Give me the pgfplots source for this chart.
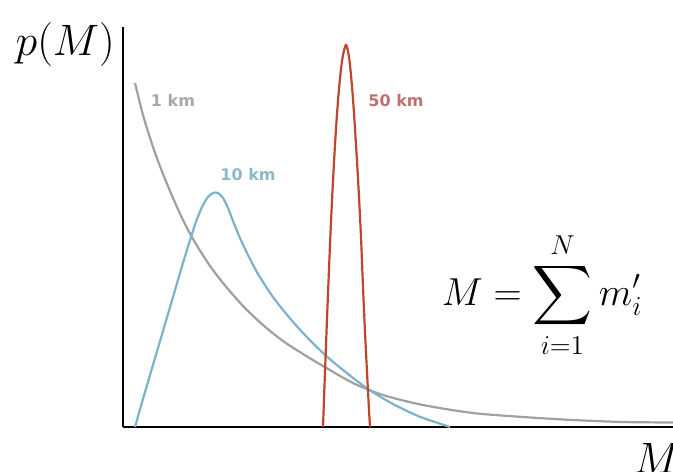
\RequirePackage{fix-cm}
\documentclass[border=0pt]{standalone}
\usepackage{amsmath}
\usepackage{pgfplots}
\pgfplotsset{compat=1.18}
\usepackage{fontspec}
\newfontfamily\lab{DejaVu Sans}

\definecolor{grayc}{RGB}{160,160,160}
\definecolor{bluec}{RGB}{122,179,204}
\definecolor{redc}{RGB}{192,69,47}
\definecolor{grayt}{RGB}{168,168,168}
\definecolor{bluet}{RGB}{140,184,204}
\definecolor{redt}{RGB}{192,112,112}

\begin{document}
\begin{tikzpicture}
\useasboundingbox (0,0) rectangle (336.5pt,235.5pt);
\clip (0,0) rectangle (336.5pt,235.5pt);
\begin{axis}[
    at={(61.5pt,22pt)}, anchor=south west,
    width=275pt, height=200pt, scale only axis,
    xmin=0, xmax=550, ymin=0, ymax=400,
    axis x line*=bottom, axis y line*=left,
    axis line style={black, line width=1pt, -},
    xtick=\empty, ytick=\empty,
    clip=false,
    every axis plot/.append style={line width=1.1pt, smooth, no markers},
]
% 1 km
\addplot[grayc] coordinates {
 (12,344) (20,312) (30,280) (40,253) (50,229) (60,207) (70,188) (85,164)
 (100,144) (120,121) (140,102) (160,86) (180,73) (200,61) (230,44)
 (260,32) (300,22) (350,14) (400,10) (450,7) (500,5) (550,4.5)};
% 10 km
\addplot[bluec] coordinates {
 (12,0) (20,28) (30,62) (40,96) (50,130) (60,164) (68,190) (74,208)
 (80,222) (85,230) (90,234) (95,234) (100,229) (105,219) (110,206)
 (117,189) (125,172) (135,153) (150,130) (165,111) (180,94) (200,74)
 (220,57) (245,38) (270,23) (295,11) (315,4) (327,0)};
% 50 km
\addplot[redc] coordinates {
 (200,0) (202,55) (204,108) (206,158) (208,205) (210,246) (212,282)
 (214,313) (216,338) (218,358) (220,372) (222,380) (223,382) (224,380)
 (226,370) (228,352) (230,328) (232,298) (234,266) (236,230) (238,190)
 (240,140) (242,95) (244,55) (246,17) (247,0)};

\node[grayt, font=\lab\fontsize{8}{9}\selectfont\bfseries] at (axis cs:50,327) {1 km};
\node[bluet, font=\lab\fontsize{8}{9}\selectfont\bfseries] at (axis cs:125,252) {10 km};
\node[redt, font=\lab\fontsize{8}{9}\selectfont\bfseries] at (axis cs:273,326) {50 km};

\node[font=\fontsize{22}{26}\selectfont] at (rel axis cs:-0.105,0.955) {$p(M)$};
\node[font=\fontsize{22}{26}\selectfont] at (rel axis cs:0.971,-0.078) {$M$};
\node[font=\fontsize{19.5}{23}\selectfont] at (rel axis cs:0.762,0.33) {$\displaystyle M=\sum_{i=1}^{N} m_i'$};
\end{axis}
\end{tikzpicture}
\end{document}
